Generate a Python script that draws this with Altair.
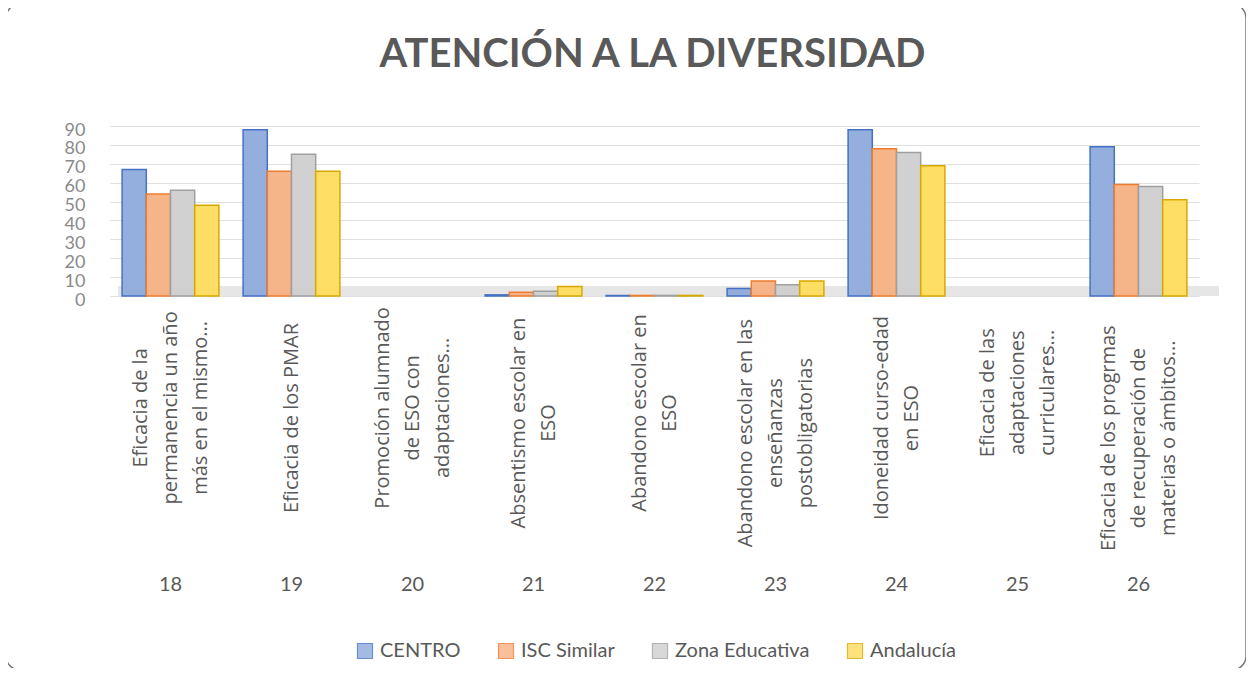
import altair as alt
import pandas as pd

title_text = "ATENCIÓN A LA DIVERSIDAD"
categories = ["18", "19", "20", "21", "22", "23", "24", "25", "26"]
category_labels = [
    "Eficacia de la\npermanencia un año\nmás en el mismo...",
    "Eficacia de los PMAR",
    "Promoción alumnado\nde ESO con\nadaptaciones...",
    "Absentismo escolar en\nESO",
    "Abandono escolar en\nESO",
    "Abandono escolar en las\nenseñanzas\npostobligatorias",
    "Idoneidad curso-edad\nen ESO",
    "Eficacia de las\nadaptaciones\ncurriculares...",
    "Eficacia de los progrmas\nde recuperación de\nmaterias o ámbitos...",
]
series = ["CENTRO", "ISC Similar", "Zona Educativa", "Andalucía"]
centro = [67, 88, None, 0.6, 0.3, 4, 88, None, 79]
isc_similar = [54, 66, None, 2, 0.3, 8, 78, None, 59]
zona_educativa = [56, 75, None, 2.5, 0.3, 6, 76, None, 58]
andalucia = [48, 66, None, 5, 0.3, 8, 69, None, 51]

fills = ["#8eaadc", "#f6b183", "#cfcfcf", "#ffdc5e"]
strokes = ["#4472c4", "#ed7d31", "#a0a0a0", "#d9a800"]

rows = []
for name, vals in zip(series, [centro, isc_similar, zona_educativa, andalucia]):
    for c, v in zip(categories, vals):
        if v is not None:
            rows.append({"cat": c, "serie": name, "valor": v})
df = pd.DataFrame(rows)

W, H = 1089, 170
PAD_INNER = 0.2
BANDWIDTH = W / (len(categories)) * (1 - PAD_INNER)

# rotated category captions: one row per line, block top-aligned, lines centred
LABEL_TOP = 191      # px below plot top where the caption block starts
CHAR_W = 10.1        # approx. px per character of caption text
LINE_GAP = 30
line_rows = []
for c, txt in zip(categories, category_labels):
    lines = txt.split("\n")
    n = len(lines)
    longest = max(len(s) for s in lines)
    for i, s in enumerate(lines):
        line_rows.append({"cat": c, "linea": s, "off": i - (n - 1) / 2,
                          "ypix": LABEL_TOP + CHAR_W * longest / 2})
lines_df = pd.DataFrame(line_rows)

FONT = "Lato"
GRAY = "#595959"

xscale = alt.Scale(domain=categories, paddingInner=PAD_INNER, paddingOuter=PAD_INNER / 2)

frame = alt.Chart(alt.Data(values=[{}])).mark_rect(
    fillOpacity=0, stroke="#7a7a7a", strokeWidth=1.5, cornerRadius=14
).encode(x=alt.value(-104), x2=alt.value(1136), y=alt.value(-122), y2=alt.value(544))

title = alt.Chart(alt.Data(values=[{"t": title_text}])).mark_text(
    font="Lato", fontSize=40, fontWeight="bold", color=GRAY,
    align="center", baseline="alphabetic"
).encode(x=alt.value(W / 2 - 2), y=alt.value(-59), text="t:N")

floor = alt.Chart(alt.Data(values=[{}])).mark_rect(fill="#e6e6e6").encode(
    x=alt.value(8), x2=alt.value(W + 20), y=alt.value(H - 10), y2=alt.value(H)
)

bars = alt.Chart(df).mark_bar(strokeWidth=1.5, fillOpacity=0.95).encode(
    x=alt.X("cat:N", scale=xscale, sort=categories,
            axis=alt.Axis(title=None, labelAngle=0, labelPadding=278, ticks=False,
                          domain=False, labelFontSize=20, labelColor=GRAY, labelFont=FONT)),
    xOffset=alt.XOffset("serie:N", sort=series, scale=alt.Scale(domain=series, paddingInner=0, paddingOuter=0)),
    y=alt.Y("valor:Q", scale=alt.Scale(domain=[0, 90], nice=False),
            axis=alt.Axis(title=None, values=list(range(0, 100, 10)), ticks=False, domain=False,
                          labelFontSize=18, labelColor="#8a8a8a", labelFont=FONT, labelPadding=25,
                          labelOverlap=False, gridColor="#e0e0e0", gridWidth=1.2, labelOffset=4)),
    color=alt.Color("serie:N", sort=series, scale=alt.Scale(domain=series, range=fills),
                    legend=alt.Legend(title=None, orient="none", direction="horizontal",
                                      legendX=245, legendY=515, symbolType="square",
                                      symbolSize=225, symbolStrokeWidth=1.2, labelOffset=5,
                                      labelFontSize=20, labelColor=GRAY, labelFont=FONT,
                                      columnPadding=35, symbolOpacity=0.8)),
    stroke=alt.Stroke("serie:N", sort=series, scale=alt.Scale(domain=series, range=strokes), legend=None),
)

texts = alt.Chart(lines_df).mark_text(
    angle=270, align="center", baseline="middle", fontSize=20,
    font="Open Sans", color=GRAY
).encode(
    x=alt.X("cat:N", scale=xscale, sort=categories),
    xOffset=alt.XOffset("off:Q", scale=alt.Scale(
        domain=[-1, 1], range=[BANDWIDTH / 2 - LINE_GAP, BANDWIDTH / 2 + LINE_GAP])),
    y=alt.Y("ypix:Q", scale=None, axis=None),
    text="linea:N",
)

chart = alt.layer(frame, floor, bars, texts, title).resolve_scale(
    xOffset="independent", y="independent"
).properties(
    width=W, height=H,
    autosize=alt.AutoSizeParams(type="none"),
    padding={"left": 102, "top": 118, "right": 47, "bottom": 372},
    background="white",
).configure_view(stroke=None)

chart.save("out.html", embed_options={"renderer": "svg", "actions": False})
